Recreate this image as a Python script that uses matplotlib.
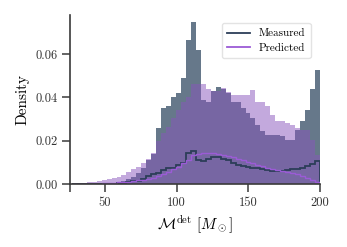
import numpy as np
import matplotlib
matplotlib.use("Agg")
import matplotlib.pyplot as plt
from matplotlib.lines import Line2D

plt.rcParams.update({
    "font.family": "serif",
    "font.serif": ["cmr10", "DejaVu Serif"],
    "mathtext.fontset": "cm",
    "axes.formatter.use_mathtext": True,
    "font.size": 9,
    "axes.labelsize": 11,
    "xtick.labelsize": 9,
    "ytick.labelsize": 9,
    "legend.fontsize": 8,
    "axes.edgecolor": "#3a3a3a",
    "axes.linewidth": 1.2,
    "xtick.color": "#3a3a3a",
    "ytick.color": "#3a3a3a",
    "xtick.labelcolor": "#333333",
    "ytick.labelcolor": "#333333",
    "xtick.major.size": 5.5,
    "ytick.major.size": 5.5,
    "xtick.major.width": 1.1,
    "ytick.major.width": 1.1,
})

# bins in chirp mass (detector frame)
edges = np.linspace(27, 200, 51)

measured_hist = [0, 0, 0, 0, 0, 0, 0.0001, 0.0002, 0.0003, 0.0007,
                 0.0013, 0.0022, 0.0034, 0.005, 0.0073, 0.0112, 0.0138, 0.026, 0.0353, 0.036,
                 0.040, 0.042, 0.049, 0.0666, 0.075, 0.062, 0.039, 0.0377, 0.043, 0.045,
                 0.044, 0.042, 0.038, 0.038, 0.035, 0.033, 0.0307, 0.0274, 0.0245, 0.0228,
                 0.0228, 0.0228, 0.022, 0.0205, 0.0205, 0.0251, 0.0293, 0.0344, 0.044, 0.0527]

predicted_hist = [0.0002, 0.0004, 0.0006, 0.0008, 0.0011, 0.0015, 0.002, 0.0023, 0.003, 0.0033,
                  0.0042, 0.0054, 0.0068, 0.008, 0.0096, 0.0116, 0.0143, 0.0197, 0.0237, 0.0265,
                  0.0307, 0.0344, 0.0377, 0.040, 0.046, 0.046, 0.046, 0.0437, 0.043, 0.043,
                  0.0445, 0.0425, 0.041, 0.041, 0.041, 0.041, 0.0434, 0.038, 0.038, 0.036,
                  0.032, 0.029, 0.029, 0.028, 0.0274, 0.026, 0.025, 0.025, 0.0205, 0.0135]

measured_line = [0, 0, 0, 0, 0, 0, 0, 0, 0.0002, 0.0004,
                 0.0006, 0.0009, 0.0012, 0.0016, 0.0025, 0.0037, 0.0045, 0.005, 0.0065, 0.0072,
                 0.0074, 0.0088, 0.0095, 0.0145, 0.0153, 0.011, 0.0107, 0.0115, 0.0127, 0.0125,
                 0.0115, 0.0112, 0.0095, 0.009, 0.0085, 0.008, 0.0073, 0.0072, 0.0068, 0.0063,
                 0.0062, 0.0061, 0.0062, 0.0064, 0.0068, 0.007, 0.0075, 0.0085, 0.0092, 0.0104]

predicted_line = [0.0001, 0.0001, 0.0001, 0.0001, 0.0001, 0.0002, 0.0003, 0.0004, 0.0005, 0.0007,
                  0.0009, 0.0011, 0.0014, 0.0017, 0.0019, 0.0025, 0.003, 0.0036, 0.0045, 0.0055,
                  0.0068, 0.0078, 0.0095, 0.011, 0.0135, 0.014, 0.0143, 0.0145, 0.0142, 0.0138,
                  0.0135, 0.013, 0.0123, 0.0116, 0.011, 0.0102, 0.0095, 0.0088, 0.0082, 0.0076,
                  0.007, 0.0065, 0.006, 0.0054, 0.0049, 0.0044, 0.0035, 0.0027, 0.0019, 0.0011]

c_meas = "#2c3e58"
c_pred = "#9b5bd6"

fig = plt.figure(figsize=(3.47, 2.47), dpi=100)
ax = fig.add_axes([0.2017, 0.255, 0.7203, 0.684])

ax.stairs(measured_hist, edges, fill=True, color="#66788a", lw=0)
ax.stairs(predicted_hist, edges, fill=True, color="#8955bd", alpha=0.5, lw=0)
ax.stairs(measured_line, edges, color=c_meas, lw=1.3)
ax.stairs(predicted_line, edges, color=c_pred, lw=1.0)

ax.set_xlim(25.7, 200)
ax.set_ylim(0, 0.078)
ax.set_xticks([25.7, 50, 100, 150, 200], ["", "50", "100", "150", "200"])
ax.set_yticks([0, 0.02, 0.04, 0.06])
ax.yaxis.set_major_formatter(plt.FormatStrFormatter("%.2f"))
for s in ["top", "right"]:
    ax.spines[s].set_visible(False)

ax.set_xlabel(r"$\mathcal{M}^{\rm det}\ [M_\odot]$", labelpad=3)
ax.set_ylabel("Density", labelpad=4)

handles = [Line2D([], [], color=c_meas, lw=1.3), Line2D([], [], color=c_pred, lw=1.3)]
ax.legend(handles, ["Measured", "Predicted"], loc="upper right",
          bbox_to_anchor=(0.985, 0.985), frameon=True, edgecolor="#dddddd",
          handlelength=2.0, borderpad=0.5, labelspacing=0.4)

fig.savefig("out.png", dpi=100)
